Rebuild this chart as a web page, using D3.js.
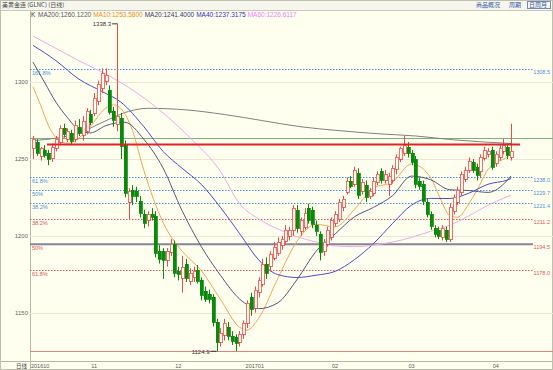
<!DOCTYPE html>
<html>
<head>
<meta charset="utf-8">
<script src="https://cdn.jsdelivr.net/npm/d3@7"></script>
<style>
  body { margin: 0; background: #fffff0; }
  svg { display: block; font-family: 'Liberation Sans', Arial, sans-serif; }
</style>
</head>
<body>
<div id="chart"></div>
<script>
// daily candles, [open, high, low, close], oct 2016 -> apr 2017
const candles = [
  [1257, 1265, 1250, 1263], [1261, 1263, 1252, 1254], [1252, 1258, 1249, 1257], [1256, 1259, 1251, 1253],
  [1254, 1256, 1246, 1250], [1251, 1260, 1248, 1258], [1257, 1265, 1255, 1263], [1261, 1272, 1259, 1270],
  [1270, 1273, 1264, 1266], [1263, 1270, 1261, 1268], [1267, 1269, 1259, 1262], [1263, 1275, 1261, 1272],
  [1271, 1276, 1265, 1267], [1266, 1278, 1262, 1275], [1268, 1283, 1266, 1281], [1279, 1282, 1272, 1274],
  [1280, 1293, 1278, 1290], [1288, 1301, 1285, 1299], [1296, 1309, 1293, 1306], [1301, 1309, 1298, 1305],
  [1295, 1298, 1279, 1281], [1281, 1284, 1271, 1275], [1273, 1338.3, 1268, 1278], [1277, 1280, 1250, 1259],
  [1259, 1262, 1225, 1228], [1222, 1231, 1211, 1229], [1230, 1233, 1220, 1226], [1229, 1232, 1222, 1226],
  [1223, 1226, 1212, 1215], [1214, 1217, 1205, 1208], [1210, 1216, 1206, 1214], [1214, 1218, 1210, 1212],
  [1213, 1216, 1186, 1189], [1190, 1194, 1182, 1185], [1190, 1192, 1172, 1184], [1184, 1192, 1180, 1190],
  [1190, 1198, 1187, 1195], [1195, 1197, 1173, 1176], [1177, 1180, 1171, 1175], [1173, 1187, 1163, 1180],
  [1182, 1185, 1170, 1173], [1171, 1179, 1168, 1176], [1173, 1180, 1170, 1177], [1178, 1181, 1169, 1171],
  [1171, 1173, 1158, 1161], [1164, 1167, 1157, 1159], [1162, 1165, 1156, 1159], [1160, 1162, 1141, 1144],
  [1144, 1146, 1124.9, 1131], [1131, 1140, 1128, 1137], [1135, 1146, 1132, 1143], [1141, 1144, 1132, 1135],
  [1135, 1138, 1129, 1132], [1134, 1136, 1125, 1130], [1131, 1138, 1128, 1136], [1136, 1145, 1133, 1143],
  [1143, 1158, 1140, 1156], [1160, 1163, 1148, 1152], [1153, 1167, 1150, 1165], [1163, 1173, 1160, 1171],
  [1169, 1185, 1167, 1182], [1182, 1186, 1172, 1176], [1180, 1190, 1177, 1188], [1186, 1196, 1184, 1193],
  [1189, 1199, 1187, 1196], [1194, 1200, 1191, 1198], [1197, 1207, 1195, 1204], [1200, 1206, 1197, 1204],
  [1204, 1220, 1200, 1218], [1217, 1220, 1202, 1205], [1203, 1212, 1200, 1210], [1206, 1218, 1204, 1215],
  [1218, 1221, 1208, 1210], [1217, 1219, 1205, 1208], [1207, 1210, 1200, 1203], [1201, 1203, 1184, 1189],
  [1190, 1198, 1187, 1196], [1195, 1206, 1193, 1204], [1199, 1212, 1197, 1210], [1208, 1216, 1206, 1214],
  [1211, 1224, 1209, 1222], [1219, 1226, 1216, 1224], [1229, 1238, 1227, 1236], [1236, 1239, 1231, 1233],
  [1234, 1245, 1232, 1243], [1241, 1244, 1224, 1227], [1229, 1237, 1227, 1235], [1233, 1236, 1222, 1225],
  [1226, 1231, 1224, 1229], [1228, 1238, 1226, 1236], [1235, 1242, 1233, 1240], [1242, 1244, 1234, 1236],
  [1236, 1243, 1234, 1240], [1234, 1241, 1226, 1239], [1236, 1246, 1234, 1244], [1243, 1253, 1240, 1251],
  [1250, 1258, 1248, 1257], [1254, 1265, 1252, 1259], [1258, 1261, 1251, 1254], [1254, 1256, 1246, 1248],
  [1250, 1252, 1231, 1234], [1236, 1238, 1230, 1233], [1234, 1236, 1220, 1223], [1222, 1224, 1212, 1214],
  [1214, 1216, 1204, 1206], [1205, 1207, 1199, 1201], [1204, 1206, 1198, 1200], [1199, 1207, 1197, 1205],
  [1204, 1206, 1196, 1198], [1198, 1221, 1196, 1219], [1216, 1227, 1214, 1225], [1222, 1232, 1220, 1230],
  [1228, 1242, 1226, 1240], [1237, 1245, 1235, 1243], [1243, 1251, 1241, 1249], [1248, 1250, 1241, 1243],
  [1245, 1247, 1236, 1240], [1242, 1253, 1238, 1251], [1251, 1258, 1249, 1256], [1253, 1257, 1251, 1255],
  [1256, 1258, 1243, 1245], [1247, 1255, 1245, 1253], [1251, 1259, 1249, 1257], [1255, 1263, 1253, 1259],
  [1258, 1260, 1250, 1253], [1251, 1273, 1249, 1255]
]

// moving averages, [candle index, price]
const ma10 = [[0, 1297], [2, 1285], [4, 1272], [6, 1264], [9, 1260.2], [14, 1268.2], [19, 1283.1], [21, 1285.3],
  [24, 1279.5], [26, 1268.6], [29, 1242.5], [34, 1208.8], [39, 1190], [44, 1177.4], [49, 1158.8], [54, 1140.6],
  [56, 1138.7], [59, 1146.3], [64, 1172.2], [69, 1196.4], [74, 1207.5], [79, 1205.9], [84, 1217.1], [89, 1231],
  [94, 1235.1], [99, 1246.8], [104, 1237.9], [106, 1227.2], [109, 1213.3], [111, 1212.1], [114, 1221],
  [116, 1229.2], [119, 1243.2], [121, 1247.5], [124, 1251.2], [125, 1253.6]]
const ma20 = [[0, 1313], [3, 1300], [6, 1287], [9, 1277], [12, 1269], [15, 1267], [19, 1271.7], [24, 1273.9],
  [29, 1262.8], [34, 1244.2], [39, 1216.3], [44, 1193.1], [49, 1174.4], [54, 1159], [59, 1152.6], [64, 1156.4],
  [69, 1171.4], [74, 1189.9], [79, 1201.2], [84, 1212.3], [89, 1218.5], [94, 1226.1], [99, 1238.9],
  [104, 1236.5], [109, 1230], [114, 1229.5], [119, 1228.3], [124, 1236.1], [125, 1239]]
const ma40 = [[0, 1324], [6, 1314], [12, 1302], [18, 1294], [23, 1287], [29, 1271], [34, 1255], [39, 1244],
  [44, 1233.5], [49, 1218.6], [54, 1201.6], [59, 1184.4], [64, 1174.8], [69, 1172.9], [74, 1174.4],
  [79, 1176.9], [84, 1184.4], [89, 1194.9], [94, 1208], [99, 1220], [104, 1224.4], [109, 1224.3],
  [114, 1227.8], [119, 1233.6], [124, 1236.3], [125, 1237.3]]
const ma60 = [[0, 1330], [6, 1322], [12, 1314], [20, 1304], [30, 1288], [41, 1264], [49, 1242], [54, 1221],
  [59, 1211], [64, 1204.5], [69, 1199.5], [74, 1196], [79, 1193.5], [84, 1193], [89, 1194], [94, 1196],
  [99, 1199], [104, 1203], [109, 1207], [114, 1213], [119, 1220], [124, 1225.5], [125, 1226.6]]
const ma200 = [[0, 1262], [12, 1267], [20, 1276], [25, 1281], [30, 1283], [40, 1282], [50, 1279], [60, 1275],
  [70, 1271], [80, 1268.5], [90, 1266.5], [100, 1265], [110, 1262.5], [125, 1260.1]]

const legendItems = [
  { text: 'MA200:1260.1220', color: '#555566', line: ma200, stroke: '#808080' },
  { text: 'MA10:1253.5800', color: '#f08a20', line: ma10, stroke: '#f4a450' },
  { text: 'MA20:1241.4000', color: '#33336a', line: ma20, stroke: '#55557f' },
  { text: 'MA40:1237.3175', color: '#3030c0', line: ma40, stroke: '#4a4ad0' },
  { text: 'MA60:1226.6117', color: '#f080f0', line: ma60, stroke: '#f2a8ea' }
]

const fibBlue = [['161.8%', 1308.5], ['61.8%', 1238.0], ['50%', 1229.7], ['38.2%', 1221.4]]
const fibRed = [['38.2%', 1211.2], ['50%', 1194.5], ['61.8%', 1178.0]]

const monthLabels = [['201610', 0], ['11', 16], ['12', 38], ['201701', 58], ['02', 79], ['03', 99], ['04', 121]]
const yTicks = [1150, 1200, 1250, 1300]

const supportLevel = 1264
const resistLevel = 1259.4
const highLabel = '1338.3'
const lowLabel = '1124.9'

// size of the whole thing
var width = 553
var height = 370
var left = 30
var bottom = 361

var svg = d3
  .select('#chart')
  .append('svg')
  .attr('width', width)
  .attr('height', height)

svg.append('rect')
  .attr('width', width)
  .attr('height', height)
  .attr('fill', '#fffff0')

let xPositionScale = d3.scaleLinear().domain([0, candles.length - 1]).range([33, 511])
let yPositionScale = d3.scaleLinear().domain([1150, 1300]).range([312.7, 82.2])

// header bar
svg.append('rect')
  .attr('width', width)
  .attr('height', 10)
  .attr('fill', '#f6f6ec')
svg.append('line')
  .attr('x1', 0).attr('x2', width)
  .attr('y1', 10.5).attr('y2', 10.5)
  .attr('stroke', '#c8c8c0')

svg.append('text')
  .text('美黄金连 (GLNC) (日线)')
  .attr('x', 2)
  .attr('y', 7)
  .attr('font-size', 6)
  .attr('font-family', 'Noto Sans CJK SC')
  .attr('fill', '#444')

svg.append('text')
  .text('商品概况')
  .attr('x', 476)
  .attr('y', 7)
  .attr('font-size', 6)
  .attr('font-family', 'Noto Sans CJK SC')
  .attr('fill', '#3355aa')
svg.append('text')
  .text('周期')
  .attr('x', 509)
  .attr('y', 7)
  .attr('font-size', 6)
  .attr('font-family', 'Noto Sans CJK SC')
  .attr('fill', '#3355aa')
svg.append('rect')
  .attr('x', 527.5).attr('y', 1.5)
  .attr('width', 23).attr('height', 7)
  .attr('fill', 'none')
  .attr('stroke', '#7788bb')
svg.append('text')
  .text('日周月')
  .attr('x', 529)
  .attr('y', 7)
  .attr('font-size', 6)
  .attr('font-family', 'Noto Sans CJK SC')
  .attr('fill', '#3355aa')

// legend row
svg.append('text')
  .text('K')
  .attr('x', 31)
  .attr('y', 17)
  .attr('font-size', 6.5)
  .attr('fill', '#333')

var legendX = 38
legendItems.forEach(d => {
  var t = svg.append('text')
    .text(d.text)
    .attr('x', legendX)
    .attr('y', 17)
    .attr('font-size', 6.5)
    .attr('fill', d.color)
  legendX += t.node().getComputedTextLength() + 2
})

// frame
svg.append('line')
  .attr('x1', left + 0.5).attr('x2', left + 0.5)
  .attr('y1', 10).attr('y2', height)
  .attr('stroke', '#b8b8a8')
svg.append('line')
  .attr('x1', 0).attr('x2', width)
  .attr('y1', bottom + 0.5).attr('y2', bottom + 0.5)
  .attr('stroke', '#b8b8a8')
svg.append('rect')
  .attr('x', 0.5).attr('y', 0.5)
  .attr('width', width - 1).attr('height', height - 1)
  .attr('fill', 'none')
  .attr('stroke', '#c0c0b0')

// y grid + labels
svg.selectAll('.grid')
  .data(yTicks)
  .enter()
  .append('line')
  .attr('x1', left).attr('x2', width)
  .attr('y1', d => Math.round(yPositionScale(d)) + 0.5)
  .attr('y2', d => Math.round(yPositionScale(d)) + 0.5)
  .attr('stroke', '#ebe8d0')

svg.selectAll('.y-label')
  .data(yTicks)
  .enter()
  .append('text')
  .text(d => d)
  .attr('x', 28)
  .attr('y', d => yPositionScale(d) + 2)
  .attr('text-anchor', 'end')
  .attr('font-size', 6)
  .attr('fill', '#666')

// month labels
svg.append('text')
  .text('日线')
  .attr('x', 16)
  .attr('y', 368)
  .attr('font-size', 5.5)
  .attr('font-family', 'Noto Sans CJK SC')
  .attr('fill', '#444')

svg.selectAll('.x-label')
  .data(monthLabels)
  .enter()
  .append('text')
  .text(d => d[0])
  .attr('x', d => (d[1] === 0 ? 31 : xPositionScale(d[1])))
  .attr('y', 368)
  .attr('text-anchor', d => (d[1] === 0 ? 'start' : 'middle'))
  .attr('font-size', 5.5)
  .attr('fill', '#555')

// fibonacci levels
function fibLevels(data, color, cls) {
  svg.selectAll('.' + cls + '-line')
    .data(data)
    .enter()
    .append('line')
    .attr('x1', left).attr('x2', 533)
    .attr('y1', d => Math.round(yPositionScale(d[1])) + 0.5)
    .attr('y2', d => Math.round(yPositionScale(d[1])) + 0.5)
    .attr('stroke', color)
    .attr('stroke-dasharray', '1.5,1.5')

  svg.selectAll('.' + cls + '-pct')
    .data(data)
    .enter()
    .append('text')
    .text(d => d[0])
    .attr('x', 32)
    .attr('y', d => yPositionScale(d[1]) + 6)
    .attr('font-size', 5.5)
    .attr('fill', color)

  svg.selectAll('.' + cls + '-val')
    .data(data)
    .enter()
    .append('text')
    .text(d => d[1].toFixed(1))
    .attr('x', 550)
    .attr('y', d => yPositionScale(d[1]) + 5)
    .attr('text-anchor', 'end')
    .attr('font-size', 5.5)
    .attr('fill', color)
}
fibLevels(fibBlue, '#4a8fd8', 'fib-blue')
fibLevels(fibRed, '#e05555', 'fib-red')

// the 50% red level is drawn heavy and grey
svg.append('line')
  .attr('x1', left).attr('x2', 533)
  .attr('y1', yPositionScale(1194.5)).attr('y2', yPositionScale(1194.5))
  .attr('stroke', '#85859a')
  .attr('stroke-width', 2)

// support / low lines
svg.append('line')
  .attr('x1', left).attr('x2', width)
  .attr('y1', Math.round(yPositionScale(supportLevel)) + 0.5)
  .attr('y2', Math.round(yPositionScale(supportLevel)) + 0.5)
  .attr('stroke', '#7fae80')

svg.append('line')
  .attr('x1', left).attr('x2', width)
  .attr('y1', Math.round(yPositionScale(1124.9)) + 0.5)
  .attr('y2', Math.round(yPositionScale(1124.9)) + 0.5)
  .attr('stroke', '#e88080')

// moving averages
var line = d3
  .line()
  .x(d => xPositionScale(d[0]))
  .y(d => yPositionScale(d[1]))
  .curve(d3.curveMonotoneX)

svg.selectAll('.ma-line')
  .data(legendItems)
  .enter()
  .append('path')
  .attr('class', 'ma-line')
  .attr('d', d => line(d.line))
  .attr('fill', 'none')
  .attr('stroke', d => d.stroke)
  .attr('stroke-width', 1)

// candles
var up = '#f04848'
var down = '#0a8a0a'

svg.selectAll('.wick')
  .data(candles)
  .enter()
  .append('line')
  .attr('x1', (d, i) => Math.round(xPositionScale(i)) + 0.5)
  .attr('x2', (d, i) => Math.round(xPositionScale(i)) + 0.5)
  .attr('y1', d => yPositionScale(d[1]))
  .attr('y2', d => yPositionScale(d[2]))
  .attr('stroke', d => (d[3] >= d[0] ? up : down))

svg.selectAll('.body')
  .data(candles)
  .enter()
  .append('rect')
  .attr('shape-rendering', 'crispEdges')
  .attr('x', (d, i) => Math.round(xPositionScale(i)) - 1)
  .attr('y', d => Math.round(yPositionScale(Math.max(d[0], d[3]))))
  .attr('width', 3)
  .attr('height', d => Math.max(1, Math.round(Math.abs(yPositionScale(d[0]) - yPositionScale(d[3])))))
  .attr('fill', d => (d[3] >= d[0] ? '#fffff0' : down))
  .attr('stroke', d => (d[3] >= d[0] ? up : down))
  .attr('stroke-width', 0.8)

// resistance line over the candles
svg.append('line')
  .attr('x1', 47).attr('x2', 520)
  .attr('y1', yPositionScale(resistLevel)).attr('y2', yPositionScale(resistLevel))
  .attr('stroke', '#e02424')
  .attr('stroke-width', 2)

// high / low markers
var hiIdx = candles.findIndex(d => d[1] === 1338.3)
var loIdx = candles.findIndex(d => d[2] === 1124.9)

svg.append('text')
  .text(highLabel)
  .attr('x', xPositionScale(hiIdx) - 6)
  .attr('y', yPositionScale(1338.3) + 3)
  .attr('text-anchor', 'end')
  .attr('font-size', 6)
  .attr('fill', '#333')
svg.append('line')
  .attr('x1', xPositionScale(hiIdx) - 5).attr('x2', xPositionScale(hiIdx))
  .attr('y1', yPositionScale(1338.3) + 0.5).attr('y2', yPositionScale(1338.3) + 0.5)
  .attr('stroke', '#333')

svg.append('text')
  .text(lowLabel)
  .attr('x', xPositionScale(loIdx) - 7)
  .attr('y', yPositionScale(1124.9) + 2.5)
  .attr('text-anchor', 'end')
  .attr('font-size', 6)
  .attr('fill', '#333')
svg.append('line')
  .attr('x1', xPositionScale(loIdx) - 6).attr('x2', xPositionScale(loIdx))
  .attr('y1', yPositionScale(1124.9)).attr('y2', yPositionScale(1124.9))
  .attr('stroke', '#333')
</script>
</body>
</html>
